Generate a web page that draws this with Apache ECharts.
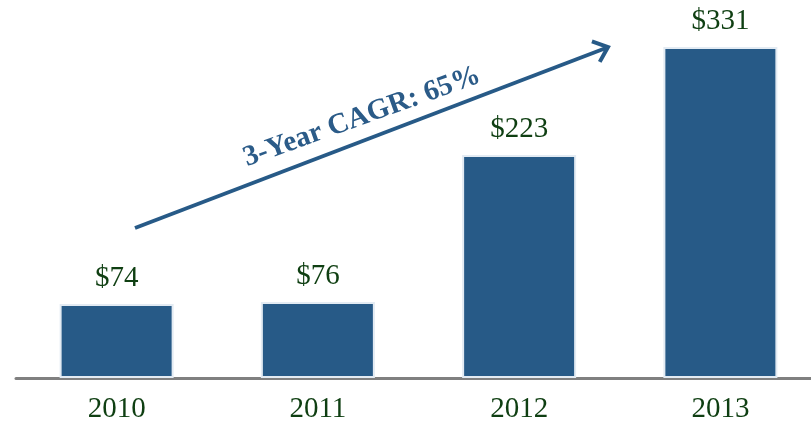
<!DOCTYPE html>
<html>
<head>
<meta charset="utf-8">
<script src="https://cdn.jsdelivr.net/npm/echarts@6/dist/echarts.min.js"></script>
<style>
  html, body { margin: 0; padding: 0; background: #fff; }
  #main { width: 811px; height: 427px; }
</style>
</head>
<body>
<div id="main"></div>
<script>
// data
const years = ['2010', '2011', '2012', '2013'];
const revenue = [74, 76, 223, 331];
const cagrText = '3-Year CAGR: 65%';

const chart = echarts.init(document.getElementById('main'), null, { renderer: 'canvas' });

const serif = '"Liberation Serif", "Times New Roman", serif';
const green = '#0f3f12';
const blue = '#275a87';

// arrow geometry (annotation only)
const tail = [135, 228];
const tip = [608, 47];
const ang = Math.atan2(tip[1] - tail[1], tip[0] - tail[0]);
const headLen = 17;
const headAng = 40 * Math.PI / 180;
const arm = (a) => [tip[0] - headLen * Math.cos(ang + a), tip[1] - headLen * Math.sin(ang + a)];

const option = {
  animation: false,
  grid: {
    left: 16,
    width: 805,
    top: 0,
    bottom: 49,
    containLabel: false,
    outerBoundsMode: 'none',
  },
  xAxis: {
    type: 'category',
    data: years,
    axisLine: {
      lineStyle: { color: '#808080', width: 3 },
    },
    axisTick: { show: false },
    axisLabel: {
      color: green,
      fontFamily: serif,
      fontSize: 29,
      margin: 17,
    },
  },
  yAxis: {
    type: 'value',
    min: 0,
    max: 378,
    show: false,
    splitLine: { show: false },
  },
  series: [{
    type: 'bar',
    data: revenue,
    barWidth: 114,
    itemStyle: {
      color: blue,
      borderColor: '#e3ebf3',
      borderWidth: 2,
    },
    label: {
      show: true,
      position: 'top',
      distance: 11,
      formatter: (p) => '$' + p.value,
      color: green,
      fontFamily: serif,
      fontSize: 29,
    },
  }],
  graphic: [
    {
      type: 'line',
      shape: { x1: tail[0], y1: tail[1], x2: tip[0] - 2, y2: tip[1] + 1 },
      style: { stroke: blue, lineWidth: 4 },
    },
    {
      type: 'polyline',
      shape: { points: [arm(headAng), tip, arm(-headAng)] },
      style: { stroke: blue, lineWidth: 4, fill: null, lineJoin: 'miter' },
    },
    {
      type: 'text',
      x: 362,
      y: 117,
      rotation: 19.8 * Math.PI / 180,
      style: {
        text: cagrText,
        font: 'bold 29px ' + serif,
        fill: '#2b5b88',
        align: 'center',
        verticalAlign: 'middle',
      },
    },
  ],
};

chart.setOption(option);
</script>
</body>
</html>
